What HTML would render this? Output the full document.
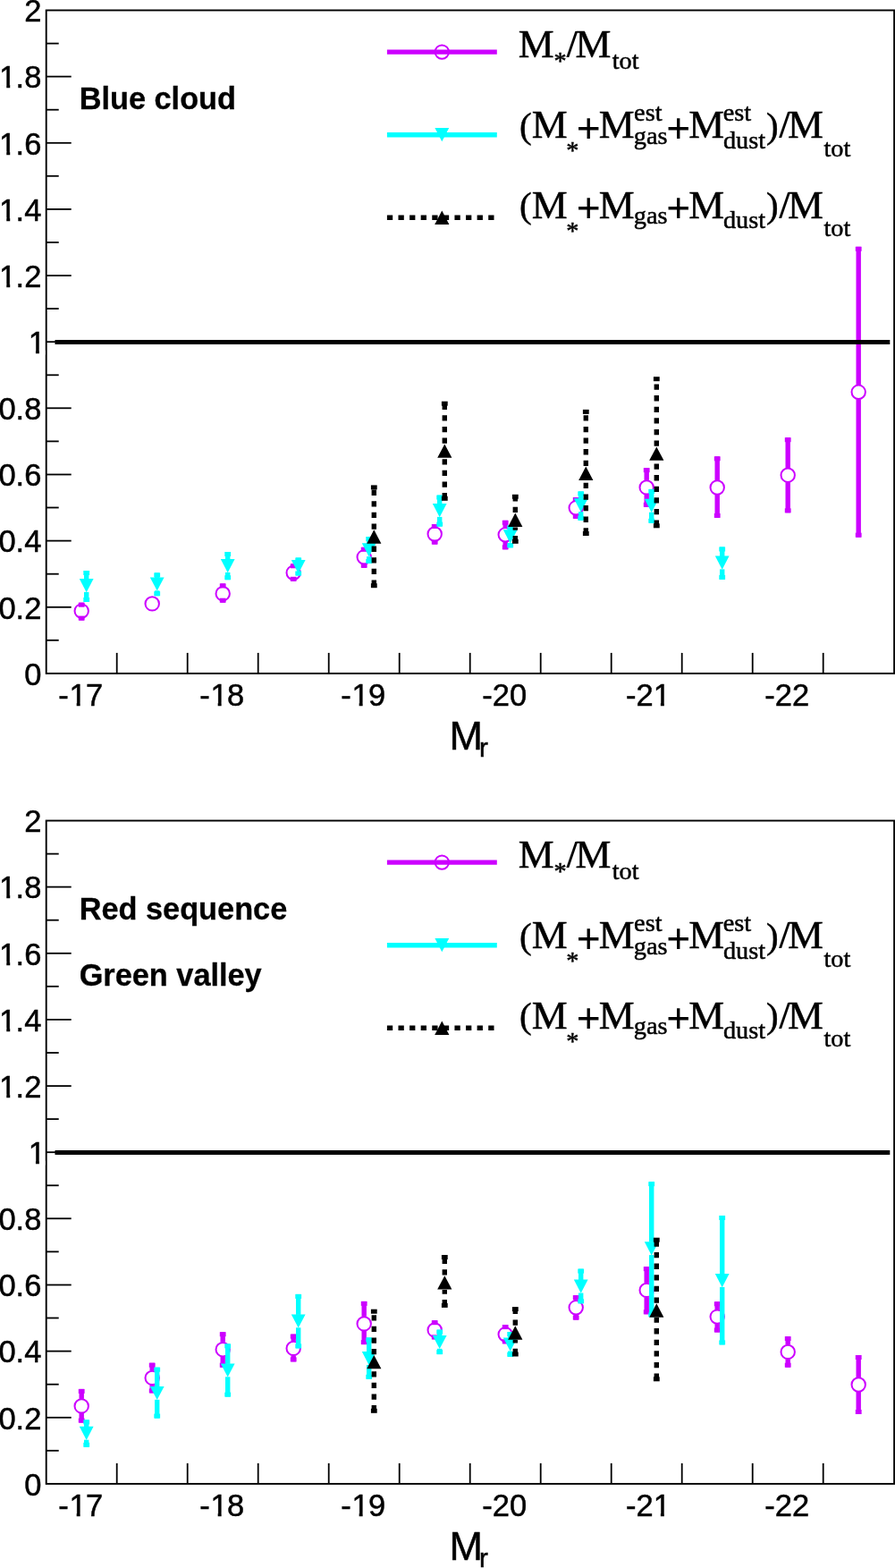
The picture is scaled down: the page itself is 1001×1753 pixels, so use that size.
<!DOCTYPE html>
<html><head><meta charset="utf-8"><title>Mass fraction vs M_r</title><style>
html,body{margin:0;padding:0;background:#fff}
svg{display:block}
text{fill:#000}
.ax,.ttl,.tsub{stroke:#000;stroke-width:0.5px}
.ax{font-family:"Liberation Sans",Arial,Helvetica,sans-serif;font-size:35px;font-kerning:none;white-space:pre}
.bold{font-family:"Liberation Sans",Arial,Helvetica,sans-serif;font-size:34.3px;font-weight:bold;stroke:#000;stroke-width:0.3px}
.ttl{font-family:"Liberation Sans",Arial,Helvetica,sans-serif;font-size:45px}
.tsub{font-family:"Liberation Sans",Arial,Helvetica,sans-serif;font-size:29.5px}
.lg,.ls,.lp,.lq,.lb{font-family:"Liberation Serif","Times New Roman",Times,serif;stroke:#000;stroke-width:0.5px}
.lg{font-size:43.6px}
.ls{font-size:28.3px}

.lp{font-size:48.2px;font-weight:bold;stroke:none}
.lq{font-size:41px}
.lb{font-size:43.6px;font-weight:bold;stroke:none}
</style></head>
<body><svg width="1001" height="1753" viewBox="0 0 1001 1753">
<rect width="1001" height="1753" fill="#fff"/>
<g id="top">
<rect x="51.7" y="11.5" width="948.4" height="741.4" fill="none" stroke="#000" stroke-width="1.9"/>
<line x1="51.7" x2="65.7" y1="715.8" y2="715.8" stroke="#000" stroke-width="1.8"/>
<line x1="51.7" x2="79.7" y1="678.8" y2="678.8" stroke="#000" stroke-width="1.8"/>
<line x1="51.7" x2="65.7" y1="641.7" y2="641.7" stroke="#000" stroke-width="1.8"/>
<line x1="51.7" x2="79.7" y1="604.6" y2="604.6" stroke="#000" stroke-width="1.8"/>
<line x1="51.7" x2="65.7" y1="567.5" y2="567.5" stroke="#000" stroke-width="1.8"/>
<line x1="51.7" x2="79.7" y1="530.5" y2="530.5" stroke="#000" stroke-width="1.8"/>
<line x1="51.7" x2="65.7" y1="493.4" y2="493.4" stroke="#000" stroke-width="1.8"/>
<line x1="51.7" x2="79.7" y1="456.3" y2="456.3" stroke="#000" stroke-width="1.8"/>
<line x1="51.7" x2="65.7" y1="419.3" y2="419.3" stroke="#000" stroke-width="1.8"/>
<line x1="51.7" x2="79.7" y1="382.2" y2="382.2" stroke="#000" stroke-width="1.8"/>
<line x1="51.7" x2="65.7" y1="345.1" y2="345.1" stroke="#000" stroke-width="1.8"/>
<line x1="51.7" x2="79.7" y1="308.1" y2="308.1" stroke="#000" stroke-width="1.8"/>
<line x1="51.7" x2="65.7" y1="271.0" y2="271.0" stroke="#000" stroke-width="1.8"/>
<line x1="51.7" x2="79.7" y1="233.9" y2="233.9" stroke="#000" stroke-width="1.8"/>
<line x1="51.7" x2="65.7" y1="196.8" y2="196.8" stroke="#000" stroke-width="1.8"/>
<line x1="51.7" x2="79.7" y1="159.8" y2="159.8" stroke="#000" stroke-width="1.8"/>
<line x1="51.7" x2="65.7" y1="122.7" y2="122.7" stroke="#000" stroke-width="1.8"/>
<line x1="51.7" x2="79.7" y1="85.6" y2="85.6" stroke="#000" stroke-width="1.8"/>
<line x1="51.7" x2="65.7" y1="48.6" y2="48.6" stroke="#000" stroke-width="1.8"/>
<line x1="130.7" x2="130.7" y1="752.9" y2="729.9" stroke="#000" stroke-width="1.8"/>
<line x1="209.7" x2="209.7" y1="752.9" y2="729.9" stroke="#000" stroke-width="1.8"/>
<line x1="288.7" x2="288.7" y1="752.9" y2="729.9" stroke="#000" stroke-width="1.8"/>
<line x1="367.7" x2="367.7" y1="752.9" y2="729.9" stroke="#000" stroke-width="1.8"/>
<line x1="446.7" x2="446.7" y1="752.9" y2="729.9" stroke="#000" stroke-width="1.8"/>
<line x1="525.7" x2="525.7" y1="752.9" y2="729.9" stroke="#000" stroke-width="1.8"/>
<line x1="604.7" x2="604.7" y1="752.9" y2="729.9" stroke="#000" stroke-width="1.8"/>
<line x1="683.7" x2="683.7" y1="752.9" y2="729.9" stroke="#000" stroke-width="1.8"/>
<line x1="762.7" x2="762.7" y1="752.9" y2="729.9" stroke="#000" stroke-width="1.8"/>
<line x1="841.7" x2="841.7" y1="752.9" y2="729.9" stroke="#000" stroke-width="1.8"/>
<line x1="920.7" x2="920.7" y1="752.9" y2="729.9" stroke="#000" stroke-width="1.8"/>
<g transform="translate(27.13,765.6) scale(0.985,1.015)"><text class="ax" x="0" y="0" dx="0.0">0</text></g>
<g transform="translate(-1.62,691.5) scale(0.985,1.015)"><text class="ax" x="0" y="0" dx="0.0 0.0 0.0">0.2</text></g>
<g transform="translate(-1.62,617.3) scale(0.985,1.015)"><text class="ax" x="0" y="0" dx="0.0 0.0 0.0">0.4</text></g>
<g transform="translate(-1.62,543.2) scale(0.985,1.015)"><text class="ax" x="0" y="0" dx="0.0 0.0 0.0">0.6</text></g>
<g transform="translate(-1.62,469.0) scale(0.985,1.015)"><text class="ax" x="0" y="0" dx="0.0 0.0 0.0">0.8</text></g>
<g transform="translate(31.73,394.9) scale(0.985,1.015)"><text class="ax" x="0" y="0" dx="0.0">1</text><rect x="0.70" y="-3.23" width="7.64" height="4.92" fill="#fff"/><rect x="12.35" y="-3.23" width="6.73" height="4.92" fill="#fff"/></g>
<g transform="translate(-1.62,320.8) scale(0.985,1.015)"><text class="ax" x="0" y="0" dx="0.7 -0.7 0.0">1.2</text><rect x="1.40" y="-3.23" width="7.63" height="4.92" fill="#fff"/><rect x="13.05" y="-3.23" width="6.73" height="4.92" fill="#fff"/></g>
<g transform="translate(-1.62,246.6) scale(0.985,1.015)"><text class="ax" x="0" y="0" dx="0.7 -0.7 0.0">1.4</text><rect x="1.40" y="-3.23" width="7.63" height="4.92" fill="#fff"/><rect x="13.05" y="-3.23" width="6.73" height="4.92" fill="#fff"/></g>
<g transform="translate(-1.62,172.5) scale(0.985,1.015)"><text class="ax" x="0" y="0" dx="0.7 -0.7 0.0">1.6</text><rect x="1.40" y="-3.23" width="7.63" height="4.92" fill="#fff"/><rect x="13.05" y="-3.23" width="6.73" height="4.92" fill="#fff"/></g>
<g transform="translate(-1.62,98.3) scale(0.985,1.015)"><text class="ax" x="0" y="0" dx="0.7 -0.7 0.0">1.8</text><rect x="1.40" y="-3.23" width="7.63" height="4.92" fill="#fff"/><rect x="13.05" y="-3.23" width="6.73" height="4.92" fill="#fff"/></g>
<g transform="translate(27.13,24.2) scale(0.985,1.015)"><text class="ax" x="0" y="0" dx="0.0">2</text></g>
<g transform="translate(65.29,789.1) scale(0.985,1.015)"><text class="ax" x="0" y="0" dx="0.0 0.7 -0.7">-17</text><rect x="13.05" y="-3.23" width="7.64" height="4.92" fill="#fff"/><rect x="24.71" y="-3.23" width="6.73" height="4.92" fill="#fff"/></g>
<g transform="translate(223.29,789.1) scale(0.985,1.015)"><text class="ax" x="0" y="0" dx="0.0 0.7 -0.7">-18</text><rect x="13.05" y="-3.23" width="7.64" height="4.92" fill="#fff"/><rect x="24.71" y="-3.23" width="6.73" height="4.92" fill="#fff"/></g>
<g transform="translate(381.29,789.1) scale(0.985,1.015)"><text class="ax" x="0" y="0" dx="0.0 0.7 -0.7">-19</text><rect x="13.05" y="-3.23" width="7.64" height="4.92" fill="#fff"/><rect x="24.71" y="-3.23" width="6.73" height="4.92" fill="#fff"/></g>
<g transform="translate(539.29,789.1) scale(0.985,1.015)"><text class="ax" x="0" y="0" dx="0.0 0.0 0.0">-20</text></g>
<g transform="translate(699.99,789.1) scale(0.985,1.015)"><text class="ax" x="0" y="0" dx="0.0 0.0 0.0">-21</text><rect x="31.82" y="-3.23" width="7.64" height="4.92" fill="#fff"/><rect x="43.47" y="-3.23" width="6.73" height="4.92" fill="#fff"/></g>
<g transform="translate(855.29,789.1) scale(0.985,1.015)"><text class="ax" x="0" y="0" dx="0.0 0.0 0.0">-22</text></g>
<text class="ttl" x="502.6" y="837.6">M</text>
<text class="tsub" x="536.0" y="846.4">r</text>
<text class="bold" x="88.7" y="121.9">Blue cloud</text>
<rect x="88.50" y="673.7" width="5.4" height="1.4" fill="#cc00ff"/>
<rect x="88.50" y="691.1" width="5.4" height="2.5" fill="#cc00ff"/>
<rect x="87.80" y="673.7" width="6.8" height="5" fill="#cc00ff"/>
<rect x="87.80" y="688.6" width="6.8" height="5" fill="#cc00ff"/>
<circle cx="91.2" cy="683.1" r="7.7" fill="none" stroke="#cc00ff" stroke-width="2"/>
<circle cx="170.2" cy="674.9" r="7.7" fill="none" stroke="#cc00ff" stroke-width="2"/>
<rect x="246.50" y="652.4" width="5.4" height="3.3" fill="#cc00ff"/>
<rect x="246.50" y="671.7" width="5.4" height="2.0" fill="#cc00ff"/>
<rect x="245.80" y="652.4" width="6.8" height="5" fill="#cc00ff"/>
<rect x="245.80" y="668.7" width="6.8" height="5" fill="#cc00ff"/>
<circle cx="249.2" cy="663.7" r="7.7" fill="none" stroke="#cc00ff" stroke-width="2"/>
<rect x="325.50" y="630.3" width="5.4" height="2.0" fill="#cc00ff"/>
<rect x="325.50" y="648.3" width="5.4" height="1.5" fill="#cc00ff"/>
<rect x="324.80" y="630.3" width="6.8" height="5" fill="#cc00ff"/>
<rect x="324.80" y="644.8" width="6.8" height="5" fill="#cc00ff"/>
<circle cx="328.2" cy="640.3" r="7.7" fill="none" stroke="#cc00ff" stroke-width="2"/>
<rect x="404.50" y="611.8" width="5.4" height="3.0" fill="#cc00ff"/>
<rect x="404.50" y="630.8" width="5.4" height="4.0" fill="#cc00ff"/>
<rect x="403.80" y="611.8" width="6.8" height="5" fill="#cc00ff"/>
<rect x="403.80" y="629.8" width="6.8" height="5" fill="#cc00ff"/>
<circle cx="407.2" cy="622.8" r="7.7" fill="none" stroke="#cc00ff" stroke-width="2"/>
<rect x="483.50" y="586.0" width="5.4" height="3.0" fill="#cc00ff"/>
<rect x="483.50" y="605.0" width="5.4" height="3.6" fill="#cc00ff"/>
<rect x="482.80" y="586.0" width="6.8" height="5" fill="#cc00ff"/>
<rect x="482.80" y="603.6" width="6.8" height="5" fill="#cc00ff"/>
<circle cx="486.2" cy="597.0" r="7.7" fill="none" stroke="#cc00ff" stroke-width="2"/>
<rect x="562.50" y="581.8" width="5.4" height="8.0" fill="#cc00ff"/>
<rect x="562.50" y="605.8" width="5.4" height="8.5" fill="#cc00ff"/>
<rect x="561.80" y="581.8" width="6.8" height="5" fill="#cc00ff"/>
<rect x="561.80" y="609.3" width="6.8" height="5" fill="#cc00ff"/>
<circle cx="565.2" cy="597.8" r="7.7" fill="none" stroke="#cc00ff" stroke-width="2"/>
<rect x="641.50" y="556.0" width="5.4" height="3.8" fill="#cc00ff"/>
<rect x="641.50" y="575.8" width="5.4" height="4.0" fill="#cc00ff"/>
<rect x="640.80" y="556.0" width="6.8" height="5" fill="#cc00ff"/>
<rect x="640.80" y="574.8" width="6.8" height="5" fill="#cc00ff"/>
<circle cx="644.2" cy="567.8" r="7.7" fill="none" stroke="#cc00ff" stroke-width="2"/>
<rect x="720.50" y="523.1" width="5.4" height="13.8" fill="#cc00ff"/>
<rect x="720.50" y="552.9" width="5.4" height="13.9" fill="#cc00ff"/>
<rect x="719.80" y="523.1" width="6.8" height="5" fill="#cc00ff"/>
<rect x="719.80" y="561.8" width="6.8" height="5" fill="#cc00ff"/>
<circle cx="723.2" cy="544.9" r="7.7" fill="none" stroke="#cc00ff" stroke-width="2"/>
<rect x="799.50" y="510.3" width="5.4" height="26.7" fill="#cc00ff"/>
<rect x="799.50" y="553.0" width="5.4" height="25.9" fill="#cc00ff"/>
<rect x="798.80" y="510.3" width="6.8" height="5" fill="#cc00ff"/>
<rect x="798.80" y="573.9" width="6.8" height="5" fill="#cc00ff"/>
<circle cx="802.2" cy="545.0" r="7.7" fill="none" stroke="#cc00ff" stroke-width="2"/>
<rect x="878.50" y="489.2" width="5.4" height="34.0" fill="#cc00ff"/>
<rect x="878.50" y="539.2" width="5.4" height="34.1" fill="#cc00ff"/>
<rect x="877.80" y="489.2" width="6.8" height="5" fill="#cc00ff"/>
<rect x="877.80" y="568.3" width="6.8" height="5" fill="#cc00ff"/>
<circle cx="881.2" cy="531.2" r="7.7" fill="none" stroke="#cc00ff" stroke-width="2"/>
<rect x="957.50" y="275.8" width="5.4" height="154.5" fill="#cc00ff"/>
<rect x="957.50" y="446.3" width="5.4" height="154.4" fill="#cc00ff"/>
<rect x="956.80" y="275.8" width="6.8" height="5" fill="#cc00ff"/>
<rect x="956.80" y="595.7" width="6.8" height="5" fill="#cc00ff"/>
<circle cx="960.2" cy="438.3" r="7.7" fill="none" stroke="#cc00ff" stroke-width="2"/>
<line x1="61.5" x2="995.3" y1="382.4" y2="382.4" stroke="#000" stroke-width="5"/>
<rect x="94.00" y="638.0" width="5.4" height="9.5" fill="#00ffff"/>
<rect x="94.00" y="661.9" width="5.4" height="11.1" fill="#00ffff"/>
<rect x="93.30" y="638.0" width="6.8" height="5" fill="#00ffff"/>
<rect x="93.30" y="668.0" width="6.8" height="5" fill="#00ffff"/>
<polygon points="88.8,647.0 104.6,647.0 96.7,662.2" fill="#00ffff"/>
<rect x="173.00" y="640.4" width="5.4" height="5.5" fill="#00ffff"/>
<rect x="173.00" y="660.3" width="5.4" height="5.9" fill="#00ffff"/>
<rect x="172.30" y="640.4" width="6.8" height="5" fill="#00ffff"/>
<rect x="172.30" y="661.2" width="6.8" height="5" fill="#00ffff"/>
<polygon points="167.8,645.4 183.6,645.4 175.7,660.6" fill="#00ffff"/>
<rect x="252.00" y="617.0" width="5.4" height="8.5" fill="#00ffff"/>
<rect x="252.00" y="639.9" width="5.4" height="8.3" fill="#00ffff"/>
<rect x="251.30" y="617.0" width="6.8" height="5" fill="#00ffff"/>
<rect x="251.30" y="643.2" width="6.8" height="5" fill="#00ffff"/>
<polygon points="246.8,625.0 262.6,625.0 254.7,640.2" fill="#00ffff"/>
<rect x="331.00" y="623.5" width="5.4" height="3.0" fill="#00ffff"/>
<rect x="331.00" y="640.9" width="5.4" height="2.6" fill="#00ffff"/>
<rect x="330.30" y="623.5" width="6.8" height="5" fill="#00ffff"/>
<rect x="330.30" y="638.5" width="6.8" height="5" fill="#00ffff"/>
<polygon points="325.8,626.0 341.6,626.0 333.7,641.2" fill="#00ffff"/>
<rect x="410.00" y="600.0" width="5.4" height="7.8" fill="#00ffff"/>
<rect x="410.00" y="622.2" width="5.4" height="7.8" fill="#00ffff"/>
<rect x="409.30" y="600.0" width="6.8" height="5" fill="#00ffff"/>
<rect x="409.30" y="625.0" width="6.8" height="5" fill="#00ffff"/>
<polygon points="404.8,607.3 420.6,607.3 412.7,622.5" fill="#00ffff"/>
<rect x="489.00" y="553.6" width="5.4" height="9.9" fill="#00ffff"/>
<rect x="489.00" y="577.9" width="5.4" height="10.7" fill="#00ffff"/>
<rect x="488.30" y="553.6" width="6.8" height="5" fill="#00ffff"/>
<rect x="488.30" y="583.6" width="6.8" height="5" fill="#00ffff"/>
<polygon points="483.8,563.0 499.6,563.0 491.7,578.2" fill="#00ffff"/>
<rect x="568.00" y="587.3" width="5.4" height="5.5" fill="#00ffff"/>
<rect x="568.00" y="607.2" width="5.4" height="5.1" fill="#00ffff"/>
<rect x="567.30" y="587.3" width="6.8" height="5" fill="#00ffff"/>
<rect x="567.30" y="607.3" width="6.8" height="5" fill="#00ffff"/>
<polygon points="562.8,592.3 578.6,592.3 570.7,607.5" fill="#00ffff"/>
<rect x="647.00" y="549.4" width="5.4" height="8.4" fill="#00ffff"/>
<rect x="647.00" y="572.2" width="5.4" height="9.6" fill="#00ffff"/>
<rect x="646.30" y="549.4" width="6.8" height="5" fill="#00ffff"/>
<rect x="646.30" y="576.8" width="6.8" height="5" fill="#00ffff"/>
<polygon points="641.8,557.3 657.6,557.3 649.7,572.5" fill="#00ffff"/>
<rect x="726.00" y="546.9" width="5.4" height="11.4" fill="#00ffff"/>
<rect x="726.00" y="572.7" width="5.4" height="12.1" fill="#00ffff"/>
<rect x="725.30" y="546.9" width="6.8" height="5" fill="#00ffff"/>
<rect x="725.30" y="579.8" width="6.8" height="5" fill="#00ffff"/>
<polygon points="720.8,557.8 736.6,557.8 728.7,573.0" fill="#00ffff"/>
<rect x="805.00" y="611.5" width="5.4" height="10.5" fill="#00ffff"/>
<rect x="805.00" y="636.4" width="5.4" height="11.5" fill="#00ffff"/>
<rect x="804.30" y="611.5" width="6.8" height="5" fill="#00ffff"/>
<rect x="804.30" y="642.9" width="6.8" height="5" fill="#00ffff"/>
<polygon points="799.8,621.5 815.6,621.5 807.7,636.7" fill="#00ffff"/>
<line x1="418.3" x2="418.3" y1="591.7" y2="544.9" stroke="#000000" stroke-width="5.4" stroke-dasharray="6.3 6.3"/>
<line x1="418.3" x2="418.3" y1="654.7" y2="608.1" stroke="#000000" stroke-width="5.4" stroke-dasharray="6.3 6.3"/>
<rect x="414.90" y="542.4" width="6.8" height="5" fill="#000000"/>
<rect x="414.90" y="652.2" width="6.8" height="5" fill="#000000"/>
<polygon points="410.2,607.7 426.4,607.7 418.3,592.3" fill="#000000"/>
<line x1="497.3" x2="497.3" y1="495.8" y2="451.2" stroke="#000000" stroke-width="5.4" stroke-dasharray="6.3 6.3"/>
<line x1="497.3" x2="497.3" y1="557.3" y2="512.2" stroke="#000000" stroke-width="5.4" stroke-dasharray="6.3 6.3"/>
<rect x="493.90" y="448.7" width="6.8" height="5" fill="#000000"/>
<rect x="493.90" y="554.8" width="6.8" height="5" fill="#000000"/>
<polygon points="489.2,511.8 505.4,511.8 497.3,496.4" fill="#000000"/>
<line x1="576.3000000000001" x2="576.3000000000001" y1="573.0" y2="555.3" stroke="#000000" stroke-width="5.4" stroke-dasharray="6.3 6.3"/>
<line x1="576.3000000000001" x2="576.3000000000001" y1="605.3" y2="589.4" stroke="#000000" stroke-width="5.4" stroke-dasharray="6.3 6.3"/>
<rect x="572.90" y="552.8" width="6.8" height="5" fill="#000000"/>
<rect x="572.90" y="602.8" width="6.8" height="5" fill="#000000"/>
<polygon points="568.2,589.0 584.4,589.0 576.3,573.6" fill="#000000"/>
<line x1="655.3000000000001" x2="655.3000000000001" y1="521.0" y2="460.4" stroke="#000000" stroke-width="5.4" stroke-dasharray="6.3 6.3"/>
<line x1="655.3000000000001" x2="655.3000000000001" y1="596.5" y2="537.4" stroke="#000000" stroke-width="5.4" stroke-dasharray="6.3 6.3"/>
<rect x="651.90" y="457.9" width="6.8" height="5" fill="#000000"/>
<rect x="651.90" y="594.0" width="6.8" height="5" fill="#000000"/>
<polygon points="647.2,537.0 663.4,537.0 655.3,521.6" fill="#000000"/>
<line x1="734.3000000000001" x2="734.3000000000001" y1="498.8" y2="423.7" stroke="#000000" stroke-width="5.4" stroke-dasharray="6.3 6.3"/>
<line x1="734.3000000000001" x2="734.3000000000001" y1="587.8" y2="515.2" stroke="#000000" stroke-width="5.4" stroke-dasharray="6.3 6.3"/>
<rect x="730.90" y="421.2" width="6.8" height="5" fill="#000000"/>
<rect x="730.90" y="585.3" width="6.8" height="5" fill="#000000"/>
<polygon points="726.2,514.8 742.4,514.8 734.3,499.4" fill="#000000"/>
<line x1="432.9" x2="555.8" y1="58.1" y2="58.1" stroke="#cc00ff" stroke-width="5.4"/>
<circle cx="494.3" cy="58.1" r="7.7" fill="none" stroke="#cc00ff" stroke-width="2"/>
<line x1="432.9" x2="555.8" y1="150.7" y2="150.7" stroke="#00ffff" stroke-width="5.4"/>
<polygon points="486.4,143.1 502.2,143.1 494.3,158.3" fill="#00ffff"/>
<line x1="432.9" x2="555.8" y1="243.3" y2="243.3" stroke="#000000" stroke-width="5.4" stroke-dasharray="6.3 6.29"/>
<polygon points="486.2,251.0 502.4,251.0 494.3,235.6" fill="#000000"/>
<text class="lg" transform="translate(579.7,63.5) scale(1.03,1)">M</text>
<text class="ls" x="619.4" y="76.8">*</text>
<text class="lb" x="633.8" y="63.5">/</text>
<text class="lg" transform="translate(643.6,63.5) scale(1.03,1)">M</text>
<text class="ls" x="684.7" y="76.6">tot</text>
<text class="lq" x="581.0" y="153.5">(</text>
<text class="lg" transform="translate(594.7,154.4) scale(1.03,1)">M</text>
<text class="ls" x="633.3" y="177.3">*</text>
<text class="lp" x="644.4" y="159.5">+</text>
<text class="lg" transform="translate(669.7,154.4) scale(1.03,1)">M</text>
<text class="ls" x="709.1" y="134.5">est</text>
<text class="ls" x="708.8" y="161.1">gas</text>
<text class="lp" x="745.1" y="159.5">+</text>
<text class="lg" transform="translate(770.3,154.4) scale(1.03,1)">M</text>
<text class="ls" x="808.8" y="134.5">est</text>
<text class="ls" x="808.9" y="165.6">dust</text>
<text class="lq" x="856.9" y="153.5">)</text>
<text class="lb" x="871.4" y="154.4">/</text>
<text class="lg" transform="translate(880.9,154.4) scale(1.03,1)">M</text>
<text class="ls" x="921.5" y="174.5">tot</text>
<text class="lq" x="581.0" y="242.8">(</text>
<text class="lg" transform="translate(594.7,243.7) scale(1.03,1)">M</text>
<text class="ls" x="633.3" y="266.6">*</text>
<text class="lp" x="644.4" y="248.8">+</text>
<text class="lg" transform="translate(669.7,243.7) scale(1.03,1)">M</text>
<text class="ls" x="708.8" y="250.4">gas</text>
<text class="lp" x="745.1" y="248.8">+</text>
<text class="lg" transform="translate(770.3,243.7) scale(1.03,1)">M</text>
<text class="ls" x="808.9" y="254.9">dust</text>
<text class="lq" x="856.9" y="242.8">)</text>
<text class="lb" x="871.4" y="243.7">/</text>
<text class="lg" transform="translate(880.9,243.7) scale(1.03,1)">M</text>
<text class="ls" x="921.5" y="263.8">tot</text>
</g>
<g id="bottom">
<rect x="51.7" y="917.5" width="948.4" height="741.4" fill="none" stroke="#000" stroke-width="1.9"/>
<line x1="51.7" x2="65.7" y1="1621.8" y2="1621.8" stroke="#000" stroke-width="1.8"/>
<line x1="51.7" x2="79.7" y1="1584.8" y2="1584.8" stroke="#000" stroke-width="1.8"/>
<line x1="51.7" x2="65.7" y1="1547.7" y2="1547.7" stroke="#000" stroke-width="1.8"/>
<line x1="51.7" x2="79.7" y1="1510.6" y2="1510.6" stroke="#000" stroke-width="1.8"/>
<line x1="51.7" x2="65.7" y1="1473.5" y2="1473.5" stroke="#000" stroke-width="1.8"/>
<line x1="51.7" x2="79.7" y1="1436.5" y2="1436.5" stroke="#000" stroke-width="1.8"/>
<line x1="51.7" x2="65.7" y1="1399.4" y2="1399.4" stroke="#000" stroke-width="1.8"/>
<line x1="51.7" x2="79.7" y1="1362.3" y2="1362.3" stroke="#000" stroke-width="1.8"/>
<line x1="51.7" x2="65.7" y1="1325.3" y2="1325.3" stroke="#000" stroke-width="1.8"/>
<line x1="51.7" x2="79.7" y1="1288.2" y2="1288.2" stroke="#000" stroke-width="1.8"/>
<line x1="51.7" x2="65.7" y1="1251.1" y2="1251.1" stroke="#000" stroke-width="1.8"/>
<line x1="51.7" x2="79.7" y1="1214.1" y2="1214.1" stroke="#000" stroke-width="1.8"/>
<line x1="51.7" x2="65.7" y1="1177.0" y2="1177.0" stroke="#000" stroke-width="1.8"/>
<line x1="51.7" x2="79.7" y1="1139.9" y2="1139.9" stroke="#000" stroke-width="1.8"/>
<line x1="51.7" x2="65.7" y1="1102.8" y2="1102.8" stroke="#000" stroke-width="1.8"/>
<line x1="51.7" x2="79.7" y1="1065.8" y2="1065.8" stroke="#000" stroke-width="1.8"/>
<line x1="51.7" x2="65.7" y1="1028.7" y2="1028.7" stroke="#000" stroke-width="1.8"/>
<line x1="51.7" x2="79.7" y1="991.6" y2="991.6" stroke="#000" stroke-width="1.8"/>
<line x1="51.7" x2="65.7" y1="954.6" y2="954.6" stroke="#000" stroke-width="1.8"/>
<line x1="130.7" x2="130.7" y1="1658.9" y2="1635.9" stroke="#000" stroke-width="1.8"/>
<line x1="209.7" x2="209.7" y1="1658.9" y2="1635.9" stroke="#000" stroke-width="1.8"/>
<line x1="288.7" x2="288.7" y1="1658.9" y2="1635.9" stroke="#000" stroke-width="1.8"/>
<line x1="367.7" x2="367.7" y1="1658.9" y2="1635.9" stroke="#000" stroke-width="1.8"/>
<line x1="446.7" x2="446.7" y1="1658.9" y2="1635.9" stroke="#000" stroke-width="1.8"/>
<line x1="525.7" x2="525.7" y1="1658.9" y2="1635.9" stroke="#000" stroke-width="1.8"/>
<line x1="604.7" x2="604.7" y1="1658.9" y2="1635.9" stroke="#000" stroke-width="1.8"/>
<line x1="683.7" x2="683.7" y1="1658.9" y2="1635.9" stroke="#000" stroke-width="1.8"/>
<line x1="762.7" x2="762.7" y1="1658.9" y2="1635.9" stroke="#000" stroke-width="1.8"/>
<line x1="841.7" x2="841.7" y1="1658.9" y2="1635.9" stroke="#000" stroke-width="1.8"/>
<line x1="920.7" x2="920.7" y1="1658.9" y2="1635.9" stroke="#000" stroke-width="1.8"/>
<g transform="translate(27.13,1671.6) scale(0.985,1.015)"><text class="ax" x="0" y="0" dx="0.0">0</text></g>
<g transform="translate(-1.62,1597.5) scale(0.985,1.015)"><text class="ax" x="0" y="0" dx="0.0 0.0 0.0">0.2</text></g>
<g transform="translate(-1.62,1523.3) scale(0.985,1.015)"><text class="ax" x="0" y="0" dx="0.0 0.0 0.0">0.4</text></g>
<g transform="translate(-1.62,1449.2) scale(0.985,1.015)"><text class="ax" x="0" y="0" dx="0.0 0.0 0.0">0.6</text></g>
<g transform="translate(-1.62,1375.0) scale(0.985,1.015)"><text class="ax" x="0" y="0" dx="0.0 0.0 0.0">0.8</text></g>
<g transform="translate(31.73,1300.9) scale(0.985,1.015)"><text class="ax" x="0" y="0" dx="0.0">1</text><rect x="0.70" y="-3.23" width="7.64" height="4.92" fill="#fff"/><rect x="12.35" y="-3.23" width="6.73" height="4.92" fill="#fff"/></g>
<g transform="translate(-1.62,1226.8) scale(0.985,1.015)"><text class="ax" x="0" y="0" dx="0.7 -0.7 0.0">1.2</text><rect x="1.40" y="-3.23" width="7.63" height="4.92" fill="#fff"/><rect x="13.05" y="-3.23" width="6.73" height="4.92" fill="#fff"/></g>
<g transform="translate(-1.62,1152.6) scale(0.985,1.015)"><text class="ax" x="0" y="0" dx="0.7 -0.7 0.0">1.4</text><rect x="1.40" y="-3.23" width="7.63" height="4.92" fill="#fff"/><rect x="13.05" y="-3.23" width="6.73" height="4.92" fill="#fff"/></g>
<g transform="translate(-1.62,1078.5) scale(0.985,1.015)"><text class="ax" x="0" y="0" dx="0.7 -0.7 0.0">1.6</text><rect x="1.40" y="-3.23" width="7.63" height="4.92" fill="#fff"/><rect x="13.05" y="-3.23" width="6.73" height="4.92" fill="#fff"/></g>
<g transform="translate(-1.62,1004.3) scale(0.985,1.015)"><text class="ax" x="0" y="0" dx="0.7 -0.7 0.0">1.8</text><rect x="1.40" y="-3.23" width="7.63" height="4.92" fill="#fff"/><rect x="13.05" y="-3.23" width="6.73" height="4.92" fill="#fff"/></g>
<g transform="translate(27.13,930.2) scale(0.985,1.015)"><text class="ax" x="0" y="0" dx="0.0">2</text></g>
<g transform="translate(65.29,1695.1) scale(0.985,1.015)"><text class="ax" x="0" y="0" dx="0.0 0.7 -0.7">-17</text><rect x="13.05" y="-3.23" width="7.64" height="4.92" fill="#fff"/><rect x="24.71" y="-3.23" width="6.73" height="4.92" fill="#fff"/></g>
<g transform="translate(223.29,1695.1) scale(0.985,1.015)"><text class="ax" x="0" y="0" dx="0.0 0.7 -0.7">-18</text><rect x="13.05" y="-3.23" width="7.64" height="4.92" fill="#fff"/><rect x="24.71" y="-3.23" width="6.73" height="4.92" fill="#fff"/></g>
<g transform="translate(381.29,1695.1) scale(0.985,1.015)"><text class="ax" x="0" y="0" dx="0.0 0.7 -0.7">-19</text><rect x="13.05" y="-3.23" width="7.64" height="4.92" fill="#fff"/><rect x="24.71" y="-3.23" width="6.73" height="4.92" fill="#fff"/></g>
<g transform="translate(539.29,1695.1) scale(0.985,1.015)"><text class="ax" x="0" y="0" dx="0.0 0.0 0.0">-20</text></g>
<g transform="translate(699.99,1695.1) scale(0.985,1.015)"><text class="ax" x="0" y="0" dx="0.0 0.0 0.0">-21</text><rect x="31.82" y="-3.23" width="7.64" height="4.92" fill="#fff"/><rect x="43.47" y="-3.23" width="6.73" height="4.92" fill="#fff"/></g>
<g transform="translate(855.29,1695.1) scale(0.985,1.015)"><text class="ax" x="0" y="0" dx="0.0 0.0 0.0">-22</text></g>
<text class="ttl" x="502.6" y="1743.6">M</text>
<text class="tsub" x="536.0" y="1752.4">r</text>
<text class="bold" x="88.7" y="1027.9">Red sequence</text>
<text class="bold" x="88.7" y="1102.0">Green valley</text>
<rect x="88.50" y="1552.9" width="5.4" height="11.0" fill="#cc00ff"/>
<rect x="88.50" y="1579.9" width="5.4" height="10.7" fill="#cc00ff"/>
<rect x="87.80" y="1552.9" width="6.8" height="5" fill="#cc00ff"/>
<rect x="87.80" y="1585.6" width="6.8" height="5" fill="#cc00ff"/>
<circle cx="91.2" cy="1571.9" r="7.7" fill="none" stroke="#cc00ff" stroke-width="2"/>
<rect x="167.50" y="1523.7" width="5.4" height="8.7" fill="#cc00ff"/>
<rect x="167.50" y="1548.4" width="5.4" height="9.0" fill="#cc00ff"/>
<rect x="166.80" y="1523.7" width="6.8" height="5" fill="#cc00ff"/>
<rect x="166.80" y="1552.4" width="6.8" height="5" fill="#cc00ff"/>
<circle cx="170.2" cy="1540.4" r="7.7" fill="none" stroke="#cc00ff" stroke-width="2"/>
<rect x="246.50" y="1489.2" width="5.4" height="11.5" fill="#cc00ff"/>
<rect x="246.50" y="1516.7" width="5.4" height="12.0" fill="#cc00ff"/>
<rect x="245.80" y="1489.2" width="6.8" height="5" fill="#cc00ff"/>
<rect x="245.80" y="1523.7" width="6.8" height="5" fill="#cc00ff"/>
<circle cx="249.2" cy="1508.7" r="7.7" fill="none" stroke="#cc00ff" stroke-width="2"/>
<rect x="325.50" y="1491.6" width="5.4" height="7.8" fill="#cc00ff"/>
<rect x="325.50" y="1515.4" width="5.4" height="7.0" fill="#cc00ff"/>
<rect x="324.80" y="1491.6" width="6.8" height="5" fill="#cc00ff"/>
<rect x="324.80" y="1517.4" width="6.8" height="5" fill="#cc00ff"/>
<circle cx="328.2" cy="1507.4" r="7.7" fill="none" stroke="#cc00ff" stroke-width="2"/>
<rect x="404.50" y="1454.9" width="5.4" height="17.0" fill="#cc00ff"/>
<rect x="404.50" y="1487.9" width="5.4" height="15.2" fill="#cc00ff"/>
<rect x="403.80" y="1454.9" width="6.8" height="5" fill="#cc00ff"/>
<rect x="403.80" y="1498.1" width="6.8" height="5" fill="#cc00ff"/>
<circle cx="407.2" cy="1479.9" r="7.7" fill="none" stroke="#cc00ff" stroke-width="2"/>
<rect x="483.50" y="1476.2" width="5.4" height="2.7" fill="#cc00ff"/>
<rect x="483.50" y="1494.9" width="5.4" height="2.5" fill="#cc00ff"/>
<rect x="482.80" y="1476.2" width="6.8" height="5" fill="#cc00ff"/>
<rect x="482.80" y="1492.4" width="6.8" height="5" fill="#cc00ff"/>
<circle cx="486.2" cy="1486.9" r="7.7" fill="none" stroke="#cc00ff" stroke-width="2"/>
<rect x="562.50" y="1481.1" width="5.4" height="2.7" fill="#cc00ff"/>
<rect x="562.50" y="1499.8" width="5.4" height="2.5" fill="#cc00ff"/>
<rect x="561.80" y="1481.1" width="6.8" height="5" fill="#cc00ff"/>
<rect x="561.80" y="1497.3" width="6.8" height="5" fill="#cc00ff"/>
<circle cx="565.2" cy="1491.8" r="7.7" fill="none" stroke="#cc00ff" stroke-width="2"/>
<rect x="641.50" y="1448.1" width="5.4" height="5.7" fill="#cc00ff"/>
<rect x="641.50" y="1469.8" width="5.4" height="5.8" fill="#cc00ff"/>
<rect x="640.80" y="1448.1" width="6.8" height="5" fill="#cc00ff"/>
<rect x="640.80" y="1470.6" width="6.8" height="5" fill="#cc00ff"/>
<circle cx="644.2" cy="1461.8" r="7.7" fill="none" stroke="#cc00ff" stroke-width="2"/>
<rect x="720.50" y="1416.1" width="5.4" height="18.3" fill="#cc00ff"/>
<rect x="720.50" y="1450.4" width="5.4" height="18.9" fill="#cc00ff"/>
<rect x="719.80" y="1416.1" width="6.8" height="5" fill="#cc00ff"/>
<rect x="719.80" y="1464.3" width="6.8" height="5" fill="#cc00ff"/>
<circle cx="723.2" cy="1442.4" r="7.7" fill="none" stroke="#cc00ff" stroke-width="2"/>
<rect x="799.50" y="1455.3" width="5.4" height="8.8" fill="#cc00ff"/>
<rect x="799.50" y="1480.1" width="5.4" height="9.4" fill="#cc00ff"/>
<rect x="798.80" y="1455.3" width="6.8" height="5" fill="#cc00ff"/>
<rect x="798.80" y="1484.5" width="6.8" height="5" fill="#cc00ff"/>
<circle cx="802.2" cy="1472.1" r="7.7" fill="none" stroke="#cc00ff" stroke-width="2"/>
<rect x="878.50" y="1494.1" width="5.4" height="9.3" fill="#cc00ff"/>
<rect x="878.50" y="1519.4" width="5.4" height="9.3" fill="#cc00ff"/>
<rect x="877.80" y="1494.1" width="6.8" height="5" fill="#cc00ff"/>
<rect x="877.80" y="1523.7" width="6.8" height="5" fill="#cc00ff"/>
<circle cx="881.2" cy="1511.4" r="7.7" fill="none" stroke="#cc00ff" stroke-width="2"/>
<rect x="957.50" y="1515.0" width="5.4" height="25.0" fill="#cc00ff"/>
<rect x="957.50" y="1556.0" width="5.4" height="25.0" fill="#cc00ff"/>
<rect x="956.80" y="1515.0" width="6.8" height="5" fill="#cc00ff"/>
<rect x="956.80" y="1576.0" width="6.8" height="5" fill="#cc00ff"/>
<circle cx="960.2" cy="1548.0" r="7.7" fill="none" stroke="#cc00ff" stroke-width="2"/>
<line x1="61.5" x2="995.3" y1="1288.4" y2="1288.4" stroke="#000" stroke-width="5"/>
<rect x="94.00" y="1587.4" width="5.4" height="7.9" fill="#00ffff"/>
<rect x="94.00" y="1609.7" width="5.4" height="8.1" fill="#00ffff"/>
<rect x="93.30" y="1587.4" width="6.8" height="5" fill="#00ffff"/>
<rect x="93.30" y="1612.8" width="6.8" height="5" fill="#00ffff"/>
<polygon points="88.8,1594.8 104.6,1594.8 96.7,1610.0" fill="#00ffff"/>
<rect x="173.00" y="1528.7" width="5.4" height="21.7" fill="#00ffff"/>
<rect x="173.00" y="1564.8" width="5.4" height="20.8" fill="#00ffff"/>
<rect x="172.30" y="1528.7" width="6.8" height="5" fill="#00ffff"/>
<rect x="172.30" y="1580.6" width="6.8" height="5" fill="#00ffff"/>
<polygon points="167.8,1549.9 183.6,1549.9 175.7,1565.1" fill="#00ffff"/>
<rect x="252.00" y="1502.4" width="5.4" height="22.5" fill="#00ffff"/>
<rect x="252.00" y="1539.3" width="5.4" height="22.3" fill="#00ffff"/>
<rect x="251.30" y="1502.4" width="6.8" height="5" fill="#00ffff"/>
<rect x="251.30" y="1556.6" width="6.8" height="5" fill="#00ffff"/>
<polygon points="246.8,1524.4 262.6,1524.4 254.7,1539.6" fill="#00ffff"/>
<rect x="331.00" y="1446.9" width="5.4" height="23.0" fill="#00ffff"/>
<rect x="331.00" y="1484.3" width="5.4" height="23.1" fill="#00ffff"/>
<rect x="330.30" y="1446.9" width="6.8" height="5" fill="#00ffff"/>
<rect x="330.30" y="1502.4" width="6.8" height="5" fill="#00ffff"/>
<polygon points="325.8,1469.4 341.6,1469.4 333.7,1484.6" fill="#00ffff"/>
<rect x="410.00" y="1495.4" width="5.4" height="16.2" fill="#00ffff"/>
<rect x="410.00" y="1526.0" width="5.4" height="15.8" fill="#00ffff"/>
<rect x="409.30" y="1495.4" width="6.8" height="5" fill="#00ffff"/>
<rect x="409.30" y="1536.8" width="6.8" height="5" fill="#00ffff"/>
<polygon points="404.8,1511.1 420.6,1511.1 412.7,1526.3" fill="#00ffff"/>
<rect x="489.00" y="1486.6" width="5.4" height="6.8" fill="#00ffff"/>
<rect x="489.00" y="1507.8" width="5.4" height="6.3" fill="#00ffff"/>
<rect x="488.30" y="1486.6" width="6.8" height="5" fill="#00ffff"/>
<rect x="488.30" y="1509.1" width="6.8" height="5" fill="#00ffff"/>
<polygon points="483.8,1492.9 499.6,1492.9 491.7,1508.1" fill="#00ffff"/>
<rect x="568.00" y="1489.0" width="5.4" height="7.1" fill="#00ffff"/>
<rect x="568.00" y="1510.5" width="5.4" height="6.3" fill="#00ffff"/>
<rect x="567.30" y="1489.0" width="6.8" height="5" fill="#00ffff"/>
<rect x="567.30" y="1511.8" width="6.8" height="5" fill="#00ffff"/>
<polygon points="562.8,1495.6 578.6,1495.6 570.7,1510.8" fill="#00ffff"/>
<rect x="647.00" y="1418.6" width="5.4" height="12.5" fill="#00ffff"/>
<rect x="647.00" y="1445.5" width="5.4" height="11.8" fill="#00ffff"/>
<rect x="646.30" y="1418.6" width="6.8" height="5" fill="#00ffff"/>
<rect x="646.30" y="1452.3" width="6.8" height="5" fill="#00ffff"/>
<polygon points="641.8,1430.6 657.6,1430.6 649.7,1445.8" fill="#00ffff"/>
<rect x="726.00" y="1321.2" width="5.4" height="67.5" fill="#00ffff"/>
<rect x="726.00" y="1403.1" width="5.4" height="69.2" fill="#00ffff"/>
<rect x="725.30" y="1321.2" width="6.8" height="5" fill="#00ffff"/>
<rect x="725.30" y="1467.3" width="6.8" height="5" fill="#00ffff"/>
<polygon points="720.8,1388.2 736.6,1388.2 728.7,1403.4" fill="#00ffff"/>
<rect x="805.00" y="1359.0" width="5.4" height="65.5" fill="#00ffff"/>
<rect x="805.00" y="1438.9" width="5.4" height="64.5" fill="#00ffff"/>
<rect x="804.30" y="1359.0" width="6.8" height="5" fill="#00ffff"/>
<rect x="804.30" y="1498.4" width="6.8" height="5" fill="#00ffff"/>
<polygon points="799.8,1424.0 815.6,1424.0 807.7,1439.2" fill="#00ffff"/>
<line x1="418.3" x2="418.3" y1="1514.3" y2="1466.2" stroke="#000000" stroke-width="5.4" stroke-dasharray="6.3 6.3"/>
<line x1="418.3" x2="418.3" y1="1577.3" y2="1530.7" stroke="#000000" stroke-width="5.4" stroke-dasharray="6.3 6.3"/>
<rect x="414.90" y="1463.7" width="6.8" height="5" fill="#000000"/>
<rect x="414.90" y="1574.8" width="6.8" height="5" fill="#000000"/>
<polygon points="410.2,1530.3 426.4,1530.3 418.3,1514.9" fill="#000000"/>
<line x1="497.3" x2="497.3" y1="1425.6" y2="1405.5" stroke="#000000" stroke-width="5.4" stroke-dasharray="6.3 6.3"/>
<line x1="497.3" x2="497.3" y1="1459.4" y2="1442.0" stroke="#000000" stroke-width="5.4" stroke-dasharray="6.3 6.3"/>
<rect x="493.90" y="1403.0" width="6.8" height="5" fill="#000000"/>
<rect x="493.90" y="1456.9" width="6.8" height="5" fill="#000000"/>
<polygon points="489.2,1441.6 505.4,1441.6 497.3,1426.2" fill="#000000"/>
<line x1="576.3000000000001" x2="576.3000000000001" y1="1481.7" y2="1463.6" stroke="#000000" stroke-width="5.4" stroke-dasharray="6.3 6.3"/>
<line x1="576.3000000000001" x2="576.3000000000001" y1="1514.0" y2="1498.1" stroke="#000000" stroke-width="5.4" stroke-dasharray="6.3 6.3"/>
<rect x="572.90" y="1461.1" width="6.8" height="5" fill="#000000"/>
<rect x="572.90" y="1511.5" width="6.8" height="5" fill="#000000"/>
<polygon points="568.2,1497.7 584.4,1497.7 576.3,1482.3" fill="#000000"/>
<line x1="734.3000000000001" x2="734.3000000000001" y1="1456.7" y2="1386.2" stroke="#000000" stroke-width="5.4" stroke-dasharray="6.3 6.3"/>
<line x1="734.3000000000001" x2="734.3000000000001" y1="1541.8" y2="1473.1" stroke="#000000" stroke-width="5.4" stroke-dasharray="6.3 6.3"/>
<rect x="730.90" y="1383.7" width="6.8" height="5" fill="#000000"/>
<rect x="730.90" y="1539.3" width="6.8" height="5" fill="#000000"/>
<polygon points="726.2,1472.7 742.4,1472.7 734.3,1457.3" fill="#000000"/>
<line x1="432.9" x2="555.8" y1="964.1" y2="964.1" stroke="#cc00ff" stroke-width="5.4"/>
<circle cx="494.3" cy="964.1" r="7.7" fill="none" stroke="#cc00ff" stroke-width="2"/>
<line x1="432.9" x2="555.8" y1="1056.7" y2="1056.7" stroke="#00ffff" stroke-width="5.4"/>
<polygon points="486.4,1049.1 502.2,1049.1 494.3,1064.3" fill="#00ffff"/>
<line x1="432.9" x2="555.8" y1="1149.3" y2="1149.3" stroke="#000000" stroke-width="5.4" stroke-dasharray="6.3 6.29"/>
<polygon points="486.2,1157.0 502.4,1157.0 494.3,1141.6" fill="#000000"/>
<text class="lg" transform="translate(579.7,969.5) scale(1.03,1)">M</text>
<text class="ls" x="619.4" y="982.8">*</text>
<text class="lb" x="633.8" y="969.5">/</text>
<text class="lg" transform="translate(643.6,969.5) scale(1.03,1)">M</text>
<text class="ls" x="684.7" y="982.6">tot</text>
<text class="lq" x="581.0" y="1059.5">(</text>
<text class="lg" transform="translate(594.7,1060.4) scale(1.03,1)">M</text>
<text class="ls" x="633.3" y="1083.3">*</text>
<text class="lp" x="644.4" y="1065.5">+</text>
<text class="lg" transform="translate(669.7,1060.4) scale(1.03,1)">M</text>
<text class="ls" x="709.1" y="1040.5">est</text>
<text class="ls" x="708.8" y="1067.1">gas</text>
<text class="lp" x="745.1" y="1065.5">+</text>
<text class="lg" transform="translate(770.3,1060.4) scale(1.03,1)">M</text>
<text class="ls" x="808.8" y="1040.5">est</text>
<text class="ls" x="808.9" y="1071.6">dust</text>
<text class="lq" x="856.9" y="1059.5">)</text>
<text class="lb" x="871.4" y="1060.4">/</text>
<text class="lg" transform="translate(880.9,1060.4) scale(1.03,1)">M</text>
<text class="ls" x="921.5" y="1080.5">tot</text>
<text class="lq" x="581.0" y="1148.8">(</text>
<text class="lg" transform="translate(594.7,1149.7) scale(1.03,1)">M</text>
<text class="ls" x="633.3" y="1172.6">*</text>
<text class="lp" x="644.4" y="1154.8">+</text>
<text class="lg" transform="translate(669.7,1149.7) scale(1.03,1)">M</text>
<text class="ls" x="708.8" y="1156.4">gas</text>
<text class="lp" x="745.1" y="1154.8">+</text>
<text class="lg" transform="translate(770.3,1149.7) scale(1.03,1)">M</text>
<text class="ls" x="808.9" y="1160.9">dust</text>
<text class="lq" x="856.9" y="1148.8">)</text>
<text class="lb" x="871.4" y="1149.7">/</text>
<text class="lg" transform="translate(880.9,1149.7) scale(1.03,1)">M</text>
<text class="ls" x="921.5" y="1169.8">tot</text>
</g>
</svg></body></html>
